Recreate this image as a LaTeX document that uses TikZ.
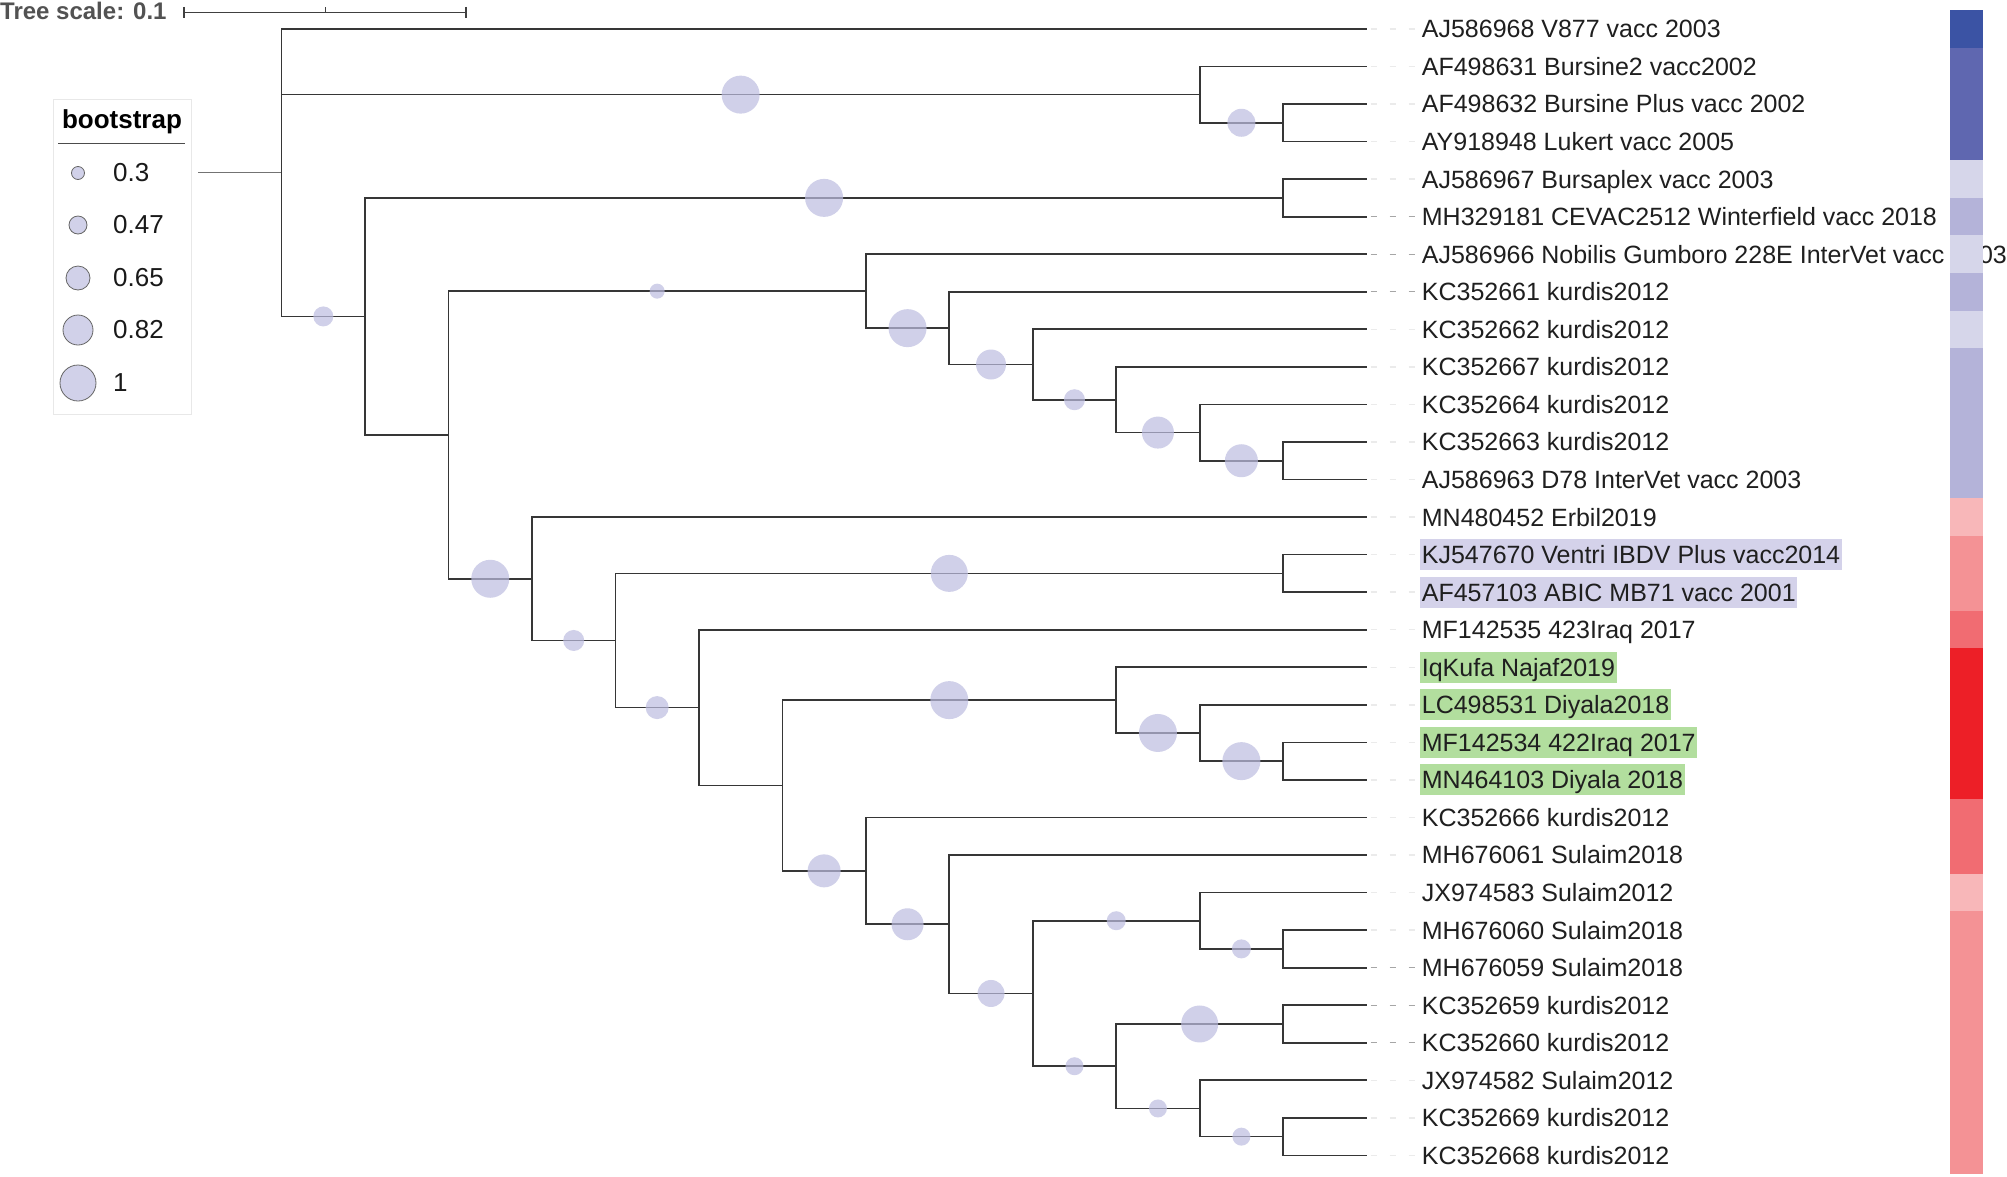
\documentclass[tikz,border=0pt]{standalone}
\usepackage{fontspec}
\setmainfont{Liberation Sans}
\usetikzlibrary{calc}
\definecolor{brc}{HTML}{363636}
\definecolor{bsc}{RGB}{189,189,224}
\definecolor{bsl}{RGB}{209,209,233}
\definecolor{hlv}{RGB}{212,210,234}
\definecolor{hlg}{RGB}{178,222,158}
\definecolor{sb1}{RGB}{59,83,164}
\definecolor{sb2}{RGB}{95,103,176}
\definecolor{sl}{RGB}{214,214,234}
\definecolor{sm}{RGB}{180,179,217}
\definecolor{rp1}{RGB}{248,183,185}
\definecolor{rp2}{RGB}{244,146,149}
\definecolor{rp3}{RGB}{241,108,114}
\definecolor{rp4}{RGB}{237,31,39}
\newcommand\Xc[1]{(281.6+83.46*(#1))}
\newcommand\Yr[1]{(28.9+37.55*((#1)-1))}
\newcommand\cn[3]{\coordinate (#1) at ({\Xc{#2}},{\Yr{#3}});}
\begin{document}
\begin{tikzpicture}[x=1pt,y=-1pt,
  branch/.style={draw=brc,line width=1.7pt},
  bsdot/.style={fill=bsc,fill opacity=0.7},
  labn/.style={anchor=west,inner xsep=1.5pt,inner ysep=0.5pt,text height=24pt,text depth=6.1pt,font=\fontsize{25}{30}\selectfont,text=black!88},
  labv/.style={labn,fill=hlv},
  labg/.style={labn,fill=hlg},
  leadl/.style={draw=black!8,line width=1.4pt,dash pattern=on 6pt off 13pt,dash phase=15pt},
  leadd/.style={draw=black!35,line width=1.4pt,dash pattern=on 6pt off 13pt,dash phase=15pt},
  legc/.style={circle,draw=black!60,line width=0.8pt,fill=bsl,inner sep=0pt},
  legt/.style={anchor=west,inner sep=0pt,font=\fontsize{26}{30}\selectfont,text=black!90}]
\useasboundingbox (0,0) rectangle (2007,1176);
\fill[white] (0,0) rectangle (2007,1176);

% scale bar
\node[anchor=west,inner sep=0pt,font=\bfseries\fontsize{24}{28}\selectfont,text=black!68] (ts) at (0,11) {Tree scale: 0.1};
\coordinate (sb0) at (184,12.3);
\coordinate (sb1) at (466,12.3);
\coordinate (sbm) at (325,12.3);
\draw[black!75,line width=1.5pt] (sb0) -- (sb1);
\draw[black!75,line width=1.5pt] ($(sb0)+(0,-5.5)$) -- ($(sb0)+(0,5.5)$);
\draw[black!75,line width=1.5pt] ($(sb1)+(0,-5.5)$) -- ($(sb1)+(0,5.5)$);
\draw[black!75,line width=1pt] ($(sbm)+(0,-5)$) -- (sbm);

% legend
\node[draw=black!9,line width=1pt,anchor=north west,minimum width=138pt,minimum height=315pt,inner sep=0pt] (leg) at (53,99) {};
\node[anchor=base,inner sep=0pt,font=\bfseries\fontsize{26}{30}\selectfont] (legtitle) at (122,128) {bootstrap};
\coordinate (lu0) at (58,143);
\coordinate (lu1) at (185,143);
\draw[black!70,line width=1pt] (lu0) -- (lu1);
\foreach \y/\d/\v [count=\k] in {173/13/0.3, 225/18/0.47, 278/24/0.65, 330/30/0.82, 383/36/1}{
  \node[legc,minimum size=\d pt] (lc\k) at (78,\y) {};
  \node[legt] (lv\k) at (113,\y) {\v};
}

% tree coordinates
\cn{R0}{-1}{4.8285}
\cn{A}{0}{4.8285}
\cn{B}{11}{2.75}
\cn{B2}{12}{3.5}
\cn{C}{1}{8.657}
\cn{D}{12}{5.5}
\cn{E}{2}{11.814}
\cn{F}{7}{7.984}
\cn{F2}{8}{8.969}
\cn{F3}{9}{9.9375}
\cn{F4}{10}{10.875}
\cn{F5}{11}{11.75}
\cn{F6}{12}{12.5}
\cn{G}{3}{15.644}
\cn{H}{4}{17.287}
\cn{I}{12}{15.5}
\cn{J}{5}{19.074}
\cn{K}{6}{21.148}
\cn{L}{10}{18.875}
\cn{L2}{11}{19.75}
\cn{L3}{12}{20.5}
\cn{M}{7}{23.422}
\cn{N}{8}{24.844}
\cn{O}{9}{26.6875}
\cn{P}{11}{24.75}
\cn{P2}{12}{25.5}
\cn{Q}{10}{28.625}
\cn{R}{12}{27.5}
\cn{S}{11}{29.75}
\cn{S2}{12}{30.5}
\foreach \i in {1,...,31}{\cn{l\i}{13}{\i}}

% branches
\draw[draw=black!55,line width=1.5pt] (R0) -- (A);
\foreach \p/\c in {A/l1,A/B,A/C,B/l2,B/B2,B2/l3,B2/l4,C/D,C/E,D/l5,D/l6,
  E/F,E/G,F/l7,F/F2,F2/l8,F2/F3,F3/l9,F3/F4,F4/l10,F4/F5,F5/l11,F5/F6,F6/l12,F6/l13,
  G/l14,G/H,H/I,H/J,I/l15,I/l16,J/l17,J/K,K/L,K/M,L/l18,L/L2,L2/l19,L2/L3,L3/l20,L3/l21,
  M/l22,M/N,N/l23,N/O,O/P,O/Q,P/l24,P/P2,P2/l25,P2/l26,Q/R,Q/S,R/l27,R/l28,S/l29,S/S2,S2/l30,S2/l31}{
  \draw[branch] (\p) |- (\c);
}

% bootstrap dots
\foreach \p/\c/\d in {A/B/38,A/C/20,B/B2/28,C/D/38,E/F/15,E/G/38,F/F2/38,F2/F3/30,F3/F4/21,
  F4/F5/32,F5/F6/33,G/H/21,H/I/37,H/J/23,K/L/38,K/M/33,L/L2/38,L2/L3/38,M/N/32,N/O/27,
  O/P/19,O/Q/18,P/P2/19,Q/R/37,Q/S/18,S/S2/18}{
  \fill[bsdot] ($(\p|-\c)!0.5!(\c)$) circle[radius=\d*0.5pt];
}

% labels
\foreach \i/\s/\t in {1/labn/AJ586968 V877 vacc 2003,
  2/labn/AF498631 Bursine2 vacc2002,
  3/labn/AF498632 Bursine Plus vacc 2002,
  4/labn/AY918948 Lukert vacc 2005,
  5/labn/AJ586967 Bursaplex vacc 2003,
  6/labn/MH329181 CEVAC2512 Winterfield vacc 2018,
  7/labn/AJ586966 Nobilis Gumboro 228E InterVet vacc 2003,
  8/labn/KC352661 kurdis2012,
  9/labn/KC352662 kurdis2012,
  10/labn/KC352667 kurdis2012,
  11/labn/KC352664 kurdis2012,
  12/labn/KC352663 kurdis2012,
  13/labn/AJ586963 D78 InterVet vacc 2003,
  14/labn/MN480452 Erbil2019,
  15/labv/KJ547670 Ventri IBDV Plus vacc2014,
  16/labv/AF457103 ABIC MB71 vacc 2001,
  17/labn/MF142535 423Iraq 2017,
  18/labg/IqKufa Najaf2019,
  19/labg/LC498531 Diyala2018,
  20/labg/MF142534 422Iraq 2017,
  21/labg/MN464103 Diyala 2018,
  22/labn/KC352666 kurdis2012,
  23/labn/MH676061 Sulaim2018,
  24/labn/JX974583 Sulaim2012,
  25/labn/MH676060 Sulaim2018,
  26/labn/MH676059 Sulaim2018,
  27/labn/KC352659 kurdis2012,
  28/labn/KC352660 kurdis2012,
  29/labn/JX974582 Sulaim2012,
  30/labn/KC352669 kurdis2012,
  31/labn/KC352668 kurdis2012}{
  \node[\s] (t\i) at ($(l\i)+(53.6,0)$) {\t};
}
\foreach \i in {1,...,5,9,10,11,12,13,14,15,16,17,18,19,20,21,22,23,24,25,29,30,31}{
  \draw[leadl] (l\i) -- (t\i.west);
}
\foreach \i in {6,7,8,26,27,28}{
  \draw[leadd] (l\i) -- (t\i.west);
}

% colour strip
\foreach \a/\b/\c in {1/1/sb1,2/4/sb2,5/5/sl,6/6/sm,7/7/sl,8/8/sm,9/9/sl,10/13/sm,
  14/14/rp1,15/16/rp2,17/17/rp3,18/21/rp4,22/23/rp3,24/24/rp1,25/31/rp2}{
  \fill[\c] (1950,{\Yr{\a}-18.8}) rectangle (1983,{\Yr{\b}+18.8});
}
\end{tikzpicture}
\end{document}
